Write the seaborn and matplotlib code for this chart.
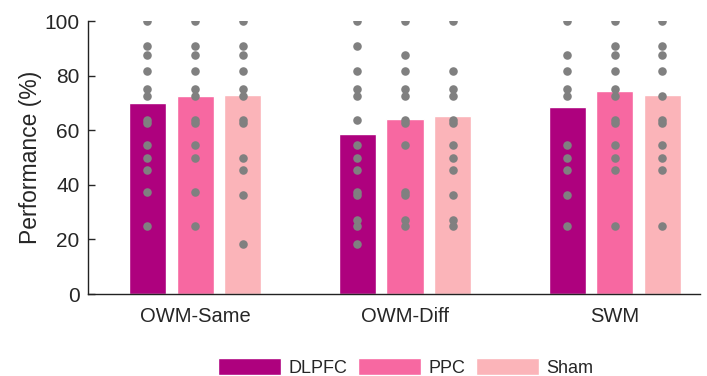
import numpy as np
import pandas as pd
import matplotlib
matplotlib.use("Agg")
import matplotlib.pyplot as plt
import seaborn as sns

tasks = ["OWM-Same", "OWM-Diff", "SWM"]
conds = ["DLPFC", "PPC", "Sham"]
colors = ["#ae017e", "#f768a1", "#fbb4b9"]

# bar heights (mean performance, %)
means = {
    "DLPFC": [70.1, 58.5, 68.4],
    "PPC": [72.5, 64.1, 74.2],
    "Sham": [72.9, 65.2, 72.9],
}

# individual subject scores (visible dots)
dots = {
    ("OWM-Same", "DLPFC"): [100, 90.9, 87.5, 81.8, 75, 72.7, 63.6, 62.5, 54.5, 50, 45.5, 37.5, 25],
    ("OWM-Same", "PPC"): [100, 90.9, 87.5, 81.8, 75, 72.7, 63.6, 62.5, 54.5, 50, 37.5, 25],
    ("OWM-Same", "Sham"): [100, 90.9, 87.5, 81.8, 75, 72.7, 63.6, 62.5, 50, 45.5, 36.4, 18.2],
    ("OWM-Diff", "DLPFC"): [100, 90.9, 81.8, 75, 72.7, 63.6, 54.5, 50, 45.5, 37.5, 36.4, 27.3, 25, 18.2],
    ("OWM-Diff", "PPC"): [100, 87.5, 81.8, 75, 72.7, 63.6, 62.5, 54.5, 37.5, 36.4, 27.3, 25],
    ("OWM-Diff", "Sham"): [100, 81.8, 75, 72.7, 63.6, 62.5, 54.5, 50, 45.5, 36.4, 27.3, 25],
    ("SWM", "DLPFC"): [100, 87.5, 81.8, 75, 72.7, 54.5, 50, 45.5, 36.4, 25],
    ("SWM", "PPC"): [100, 90.9, 87.5, 81.8, 75, 72.7, 63.6, 62.5, 54.5, 50, 45.5, 25],
    ("SWM", "Sham"): [100, 90.9, 87.5, 81.8, 72.7, 63.6, 62.5, 54.5, 50, 45.5, 25],
}

bar_df = pd.DataFrame(
    [(t, c, means[c][i]) for c in conds for i, t in enumerate(tasks)],
    columns=["task", "cond", "perf"],
)

sns.set_style("ticks")
plt.rcParams["font.family"] = ["Liberation Sans", "DejaVu Sans"]

fig = plt.figure(figsize=(7.07, 3.76), dpi=100)
ax = fig.add_axes([0.1245, 0.218, 0.8655, 0.726])

sns.barplot(data=bar_df, x="task", y="perf", hue="cond", order=tasks,
            hue_order=conds, palette=colors, width=0.68, gap=0.22,
            saturation=1, ax=ax, legend=True)

# dots at the centre of each bar
bars = sorted([p for p in ax.patches if p.get_height() > 0], key=lambda p: p.get_x())
k = 0
for t in tasks:
    for c in conds:
        p = bars[k]
        xc = p.get_x() + p.get_width() / 2
        vals = dots[(t, c)]
        ax.scatter(np.full(len(vals), xc), vals, s=38, color="#808080",
                   linewidths=0, zorder=3)
        k += 1

ax.set_ylim(0, 100)
ax.set_xlim(-0.51, 2.405)
ax.set_yticks([0, 20, 40, 60, 80, 100])
ax.set_xlabel("")
ax.set_ylabel("Performance (%)", fontsize=16.5, labelpad=2)
ax.tick_params(axis="y", direction="in", length=5, labelsize=15, width=1, pad=6)
ax.tick_params(axis="x", length=0, labelsize=14.5, pad=9)
sns.despine(ax=ax)
for s in ["left", "bottom"]:
    ax.spines[s].set_linewidth(1)
    ax.spines[s].set_color("#222222")

handles, labels = ax.get_legend_handles_labels()
ax.get_legend().remove()
fig.legend(handles, labels, loc="lower center", bbox_to_anchor=(0.574, -0.026),
           ncol=3, frameon=False, fontsize=13, handlelength=3.5,
           handleheight=1.1, handletextpad=0.4, columnspacing=0.6,
           borderpad=0)

fig.savefig("out.png", dpi=100)
